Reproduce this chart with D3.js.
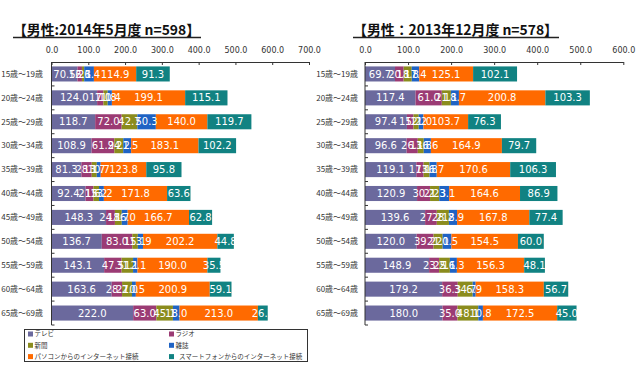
<!DOCTYPE html>
<html>
<head>
<meta charset="utf-8">
<script src="https://cdn.jsdelivr.net/npm/d3@7"></script>
<style>
  body { margin: 0; background: #fff; }
  svg { display: block; }
  .cat text { font-family: "Noto Sans CJK JP", sans-serif; font-size: 8px; fill: #333; }
  .tick-top text { font-family: "DejaVu Sans", sans-serif; font-size: 8px; fill: #333; }
  .val { font-family: "DejaVu Sans", sans-serif; font-size: 10px; fill: #fff; }
  .title { font-family: "Noto Sans CJK JP", sans-serif; font-size: 14px; font-weight: bold; fill: #111; }
  .leg { font-family: "Noto Sans CJK JP", sans-serif; font-size: 6.5px; fill: #333; }
</style>
</head>
<body>
<svg id="chart" width="640" height="366"></svg>
<script>
// age groups (rows)
const ages = ["15歳～19歳", "20歳～24歳", "25歳～29歳", "30歳～34歳", "35歳～39歳", "40歳～44歳",
              "45歳～49歳", "50歳～54歳", "55歳～59歳", "60歳～64歳", "65歳～69歳"];

// series names, same order as the stack
const seriesNames = ["テレビ", "ラジオ", "新聞", "雑誌", "パソコンからのインターネット接続", "スマートフォンからのインターネット接続"];
const seriesColors = ["#6b699d", "#9b3b74", "#8b8c1d", "#1f63c4", "#ff6a00", "#118282"];

// 2014年5月度 (left)
const tv2014    = [70.5, 124.0, 118.7, 108.9, 81.3, 92.4, 148.3, 136.7, 143.1, 163.6, 222.0];
const radio2014 = [12.3, 17.0, 72.0, 61.9, 28.1, 21.6, 24.1, 83.0, 47.5, 28.2, 63.0];
const news2014  = [6.1, 11.8, 42.7, 24.2, 13.7, 15.2, 18.7, 15.1, 31.1, 27.0, 45.1];
const mag2014   = [26.4, 11.4, 50.3, 21.5, 10.7, 13.2, 16.0, 13.9, 12.1, 10.5, 18.0];
const pc2014    = [114.9, 199.1, 140.0, 183.1, 123.8, 171.8, 166.7, 202.2, 190.0, 200.9, 213.0];
const sp2014    = [91.3, 115.1, 119.7, 102.2, 95.8, 63.6, 62.8, 44.8, 35.5, 59.1, 26.7];

// 2013年12月度 (right)
const tv2013    = [69.7, 117.4, 97.4, 96.6, 119.1, 120.9, 139.6, 120.0, 148.9, 179.2, 180.0];
const radio2013 = [20.1, 61.0, 15.2, 26.1, 17.1, 30.2, 27.2, 39.2, 23.2, 36.3, 35.0];
const news2013  = [18.8, 21.1, 12.2, 13.8, 13.8, 21.3, 28.2, 21.1, 25.1, 34.7, 48.1];
const mag2013   = [17.4, 18.7, 11.0, 16.6, 16.7, 23.1, 18.9, 20.5, 16.3, 6.9, 10.8];
const pc2013    = [125.1, 200.8, 103.7, 164.9, 170.6, 164.6, 167.8, 154.5, 156.3, 158.3, 172.5];
const sp2013    = [102.1, 103.3, 76.3, 79.7, 106.3, 86.9, 77.4, 60.0, 48.1, 56.7, 45.0];

const svg = d3.select("#chart");

// build rows for d3.stack
function makeRows(cols) {
  return ages.map((a, i) => {
    let r = { age: a };
    seriesNames.forEach((s, k) => r[s] = cols[k][i]);
    return r;
  });
}

function drawPanel(opts) {
  let x = d3.scaleLinear().domain([0, opts.max]).range([opts.x0, opts.x1]);
  let y = d3.scaleBand().domain(ages).range([62, 325]).paddingInner(0.37).paddingOuter(0.185);

  let g = svg.append("g");

  // title + underline
  g.append("text")
    .attr("class", "title")
    .attr("x", opts.tx)
    .attr("y", 35)
    .attr("textLength", opts.tw)
    .attr("lengthAdjust", "spacingAndGlyphs")
    .text(opts.title);
  g.append("line")
    .attr("x1", opts.tx).attr("x2", opts.tx + opts.tw + 1)
    .attr("y1", 37.5).attr("y2", 37.5)
    .attr("stroke", "#222").attr("stroke-width", 1.3);

  // top value axis
  let topAxis = d3.axisTop(x)
    .tickValues(d3.range(0, opts.max + 1, 100))
    .tickFormat(d3.format(".1f"))
    .tickSizeInner(-3)
    .tickSizeOuter(0)
    .tickPadding(9);
  let ta = g.append("g")
    .attr("class", "tick-top")
    .attr("transform", "translate(0,62)")
    .call(topAxis);
  ta.selectAll("path, line").attr("stroke", "#333");

  // stacked bars
  let stacked = d3.stack().keys(seriesNames)(makeRows(opts.cols));
  stacked.forEach((layer, k) => {
    let lg = g.append("g");
    lg.selectAll("rect")
      .data(layer)
      .enter()
      .append("rect")
      .attr("x", d => x(d[0]))
      .attr("y", d => y(d.data.age))
      .attr("width", d => x(d[1]) - x(d[0]))
      .attr("height", y.bandwidth())
      .attr("fill", seriesColors[k]);
  });
  // value labels on top of all bars
  stacked.forEach((layer, k) => {
    g.append("g").selectAll("text")
      .data(layer)
      .enter()
      .append("text")
      .attr("class", "val")
      .attr("x", d => (x(d[0]) + x(d[1])) / 2)
      .attr("y", d => y(d.data.age) + y.bandwidth() / 2 + 3.6)
      .attr("text-anchor", "middle")
      .text(d => d3.format(".1f")(d[1] - d[0]));
  });

  // category axis (labels only) + own line with boundary ticks
  let la = g.append("g")
    .attr("class", "cat")
    .attr("transform", `translate(${opts.x0},0)`)
    .call(d3.axisLeft(y).tickSize(0).tickPadding(opts.labelPad));
  la.select(".domain").remove();
  la.selectAll("text").attr("dy", "0.35em");

  g.append("line")
    .attr("x1", opts.x0).attr("x2", opts.x0)
    .attr("y1", 62).attr("y2", 325)
    .attr("stroke", "#333");
  let bounds = ages.map((a, i) => 62 + y.step() * (i + 1));
  g.append("g").selectAll("line")
    .data(bounds)
    .enter()
    .append("line")
    .attr("x1", opts.x0).attr("x2", opts.x0 + 3)
    .attr("y1", d => d).attr("y2", d => d)
    .attr("stroke", "#333");
}

drawPanel({
  title: "【男性:2014年5月度 n=598】", tx: 13, tw: 187,
  max: 700, x0: 51.5, x1: 309, labelPad: 8.5,
  cols: [tv2014, radio2014, news2014, mag2014, pc2014, sp2014]
});

drawPanel({
  title: "【男性：2013年12月度 n=578】", tx: 353, tw: 205,
  max: 600, x0: 365, x1: 623.3, labelPad: 7,
  cols: [tv2013, radio2013, news2013, mag2013, pc2013, sp2013]
});

// legend box
let leg = svg.append("g");
leg.append("rect")
  .attr("x", 24.5).attr("y", 329.5)
  .attr("width", 283).attr("height", 32)
  .attr("fill", "#fff")
  .attr("stroke", "#333");

let legItems = leg.selectAll("g.item")
  .data(seriesNames)
  .enter()
  .append("g")
  .attr("class", "item")
  .attr("transform", (d, i) => `translate(${i % 2 === 0 ? 28 : 169},${334 + Math.floor(i / 2) * 11.3})`);
legItems.append("rect")
  .attr("x", 0).attr("y", -2.5)
  .attr("width", 5).attr("height", 5)
  .attr("fill", (d, i) => seriesColors[i]);
legItems.append("text")
  .attr("class", "leg")
  .attr("x", (d, i) => i === 5 ? 10 : 6.5)
  .attr("y", 2.4)
  .text(d => d);
</script>
</body>
</html>
